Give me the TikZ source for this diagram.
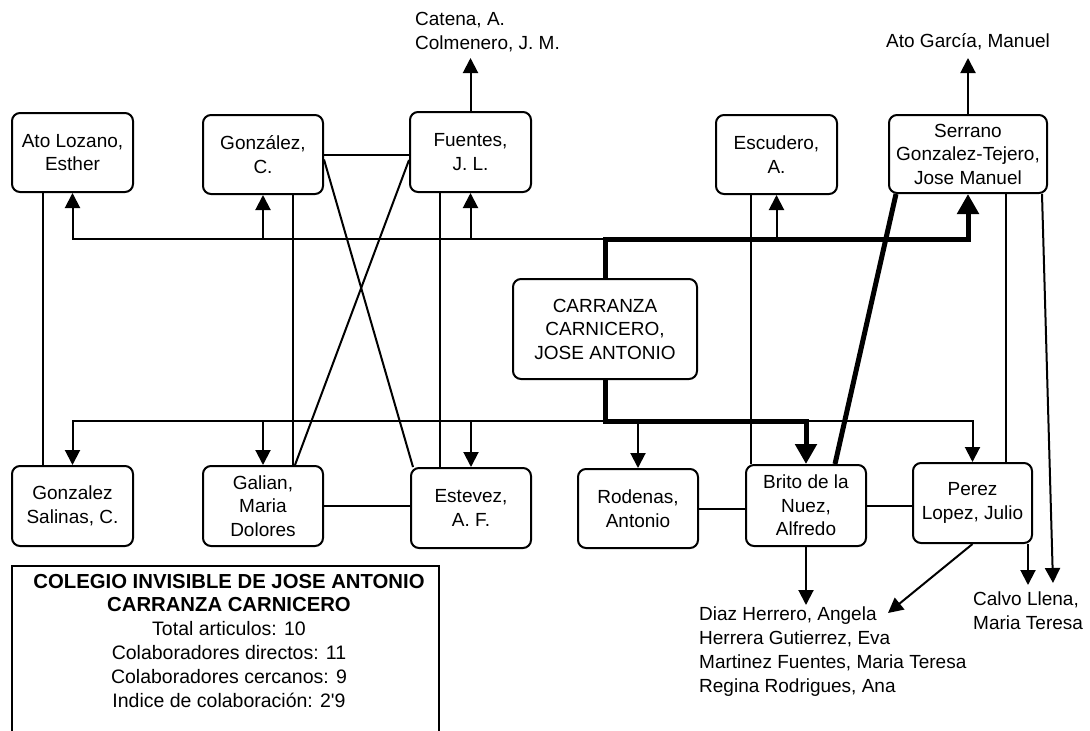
\documentclass[tikz,border=0pt]{standalone}
\usepackage{fontspec}
\setmainfont{Liberation Sans}[Ligatures=TeXOff]
\usetikzlibrary{arrows.meta}
\begin{document}
\begin{tikzpicture}[x=1pt,y=-1pt,
  box/.style={draw, line width=2pt, rounded corners=8pt, fill=white, inner sep=0pt, align=center, font=\fontsize{19}{23.5}\selectfont},
  lbl/.style={inner sep=0pt, align=left, font=\fontsize{19}{24}\selectfont, anchor=west},
  ln/.style={line width=2pt},
  thk/.style={line width=5pt},
  arr/.style={line width=2pt, -{Triangle[width=15pt,length=15pt]}},
  tharr/.style={line width=5pt, -{Triangle[width=21pt,length=20pt]}}]
\useasboundingbox (0,0) rectangle (1090,731);

% boxes
\node[box, minimum width=121pt, minimum height=79pt] (atol) at (72.5,152.5) {Ato Lozano,\\Esther};
\node[box, minimum width=120pt, minimum height=79pt] (gonc) at (263,154.5) {González,\\C.};
\node[box, minimum width=121pt, minimum height=80pt] (fuen) at (470.5,152) {Fuentes,\\J. L.};
\node[box, minimum width=121pt, minimum height=79pt] (escu) at (776.5,154.5) {Escudero,\\A.};
\node[box, minimum width=158pt, minimum height=78pt] (serr) at (968,154) {Serrano\\Gonzalez-Tejero,\\Jose Manuel};
\node[box, minimum width=184pt, minimum height=100pt] (carr) at (605,329) {CARRANZA\\CARNICERO,\\JOSE ANTONIO};
\node[box, minimum width=121pt, minimum height=80pt] (gsal) at (72.5,506) {Gonzalez\\Salinas, C.};
\node[box, minimum width=120pt, minimum height=80pt] (gali) at (263,506) {Galian,\\Maria\\Dolores};
\node[box, minimum width=120pt, minimum height=80pt] (este) at (471,508) {Estevez,\\A. F.};
\node[box, minimum width=120pt, minimum height=79pt] (rode) at (638,508.5) {Rodenas,\\Antonio};
\node[box, minimum width=120pt, minimum height=81pt] (brit) at (806,505.5) {Brito de la\\Nuez,\\Alfredo};
\node[box, minimum width=119pt, minimum height=80pt] (pere) at (972.5,503) {Perez\\Lopez, Julio};

% free text
\node[lbl] (cat) at (415,32) {Catena, A.\\Colmenero, J. M.};
\node[lbl] (atog) at (886,42) {Ato García, Manuel};
\node[lbl] (diaz) at (699,652) {Diaz Herrero, Angela\\Herrera Gutierrez, Eva\\Martinez Fuentes, Maria Teresa\\Regina Rodrigues, Ana};
\node[lbl] (calv) at (973,611) {Calvo Llena,\\Maria Teresa};

% legend
\draw[ln] (12,566) rectangle (439,790);
\node[inner sep=0pt, align=center, font=\fontsize{19.5}{23.8}\selectfont] (leg) at (229,640.5)
  {{\fontsize{20.3}{23.8}\selectfont\bfseries COLEGIO INVISIBLE DE JOSE ANTONIO}\\{\fontsize{20.3}{23.8}\selectfont\bfseries CARRANZA CARNICERO}\\Total articulos: 10\\Colaboradores directos: 11\\Colaboradores cercanos: 9\\Indice de colaboración: 2'9};

% junctions and free ends
\coordinate (tj) at (605,239);
\coordinate (bj) at (605,421);
\coordinate (catT) at (470.5,58);
\coordinate (atogT) at (968,58);
\coordinate (diazT) at (806,605);
\coordinate (diagT) at (888,613);
\coordinate (calvT1) at (1028,585);
\coordinate (calvT2) at (1053,583);

% top bus
\draw[arr] (tj) -| (atol.south);
\draw[arr] (gonc.south |- tj) -- (gonc.south);
\draw[arr] (fuen.south |- tj) -- (fuen.south);
\draw[arr] (escu.south |- tj) -- (escu.south);
\draw[tharr] (carr.north) -- (tj) -| (serr.south);

% bottom bus
\draw[arr] (bj) -| (gsal.north);
\draw[arr] (gali.north |- bj) -- (gali.north);
\draw[arr] (este.north |- bj) -- (este.north);
\draw[arr] (rode.north |- bj) -- (rode.north);
\draw[arr] (brit.north |- bj) -| (pere.north);
\draw[tharr] (carr.south) -- (bj) -| (brit.north);

% plain links
\draw[ln] ([xshift=-30pt]atol.south) -- ([xshift=-30pt]atol.south |- gsal.north);
\draw[ln] ([xshift=30pt]gonc.south) -- ([xshift=30pt]gonc.south |- gali.north);
\draw[ln] (gonc.east) -- (gonc.east -| fuen.west);
\draw[ln] ([yshift=-5pt]gonc.east) -- ([xshift=3pt]este.north west);
\draw[ln] ([yshift=-8pt]fuen.west) -- ([xshift=32pt]gali.north);
\draw[ln] ([xshift=-30.5pt]fuen.south) -- ([xshift=-30.5pt]fuen.south |- este.north);
\draw[ln] (gali.east) -- (gali.east -| este.west);
\draw[ln] ([xshift=-25.5pt]escu.south) -- ([xshift=-25.5pt]escu.south |- brit.north);
\draw[thk] ([xshift=8pt]serr.south west) -- ([xshift=29pt]brit.north);
\draw[ln] ([xshift=38pt]serr.south) -- ([xshift=38pt]serr.south |- pere.north);
\draw[ln] (rode.east) -- (rode.east -| brit.west);
\draw[ln] (brit.east) -- (brit.east -| pere.west);

% arrows to free text
\draw[arr] (fuen.north) -- (catT);
\draw[arr] (serr.north) -- (atogT);
\draw[arr] (brit.south) -- (diazT);
\draw[arr] (pere.south) -- (diagT);
\draw[arr] ([xshift=55.5pt]pere.south) -- (calvT1);
\draw[arr] ([xshift=-6pt]serr.south east) -- (calvT2);
\end{tikzpicture}
\end{document}
